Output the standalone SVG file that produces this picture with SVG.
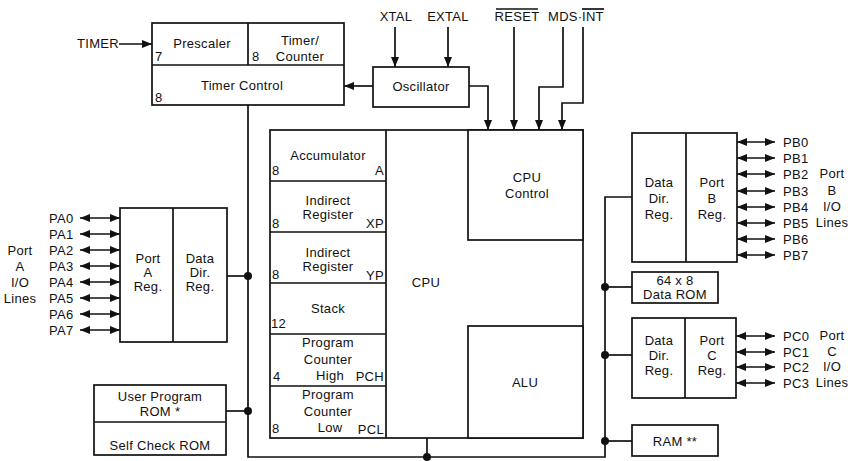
<svg xmlns="http://www.w3.org/2000/svg" width="852" height="461" viewBox="0 0 852 461">
<defs>
<marker id="ah" viewBox="0 0 10 8" refX="10" refY="4" markerWidth="10" markerHeight="8" orient="auto-start-reverse" markerUnits="userSpaceOnUse"><path d="M0,0 L10,4 L0,8 z" fill="#111"/></marker>
<style>
.b{fill:#fff;stroke:#111;stroke-width:1.7}
.l{fill:none;stroke:#111;stroke-width:1.7}
.a{fill:none;stroke:#111;stroke-width:1.7;marker-end:url(#ah)}
.d{fill:none;stroke:#111;stroke-width:1.7;marker-start:url(#ah);marker-end:url(#ah)}
.dot{fill:#111}
text{font-family:"Liberation Sans",Arial,Helvetica,sans-serif;font-size:13px;fill:#111;letter-spacing:0.3px}
.m{text-anchor:middle}
.e{text-anchor:end}
</style>
</defs>
<rect width="852" height="461" fill="#fff"/>

<g id="connectors">
<path class="a" d="M119,44H152"/>
<path class="a" d="M395,27V67"/>
<path class="a" d="M448,27V67"/>
<path class="a" d="M373,86H344"/>
<path class="a" d="M469,86H488V130"/>
<path class="a" d="M514,27V130"/>
<path class="a" d="M563,27V87H539V130"/>
<path class="a" d="M583,27V103H562V130"/>
<path class="l" d="M248,105V457H605V197H632"/>
<path class="l" d="M227,276H248"/>
<path class="l" d="M226,411H248"/>
<path class="l" d="M605,287H632"/>
<path class="l" d="M605,355H632"/>
<path class="l" d="M605,441H632"/>
<path class="l" d="M427,438V457"/>
<circle class="dot" cx="248" cy="276" r="4"/>
<circle class="dot" cx="248" cy="411" r="4"/>
<circle class="dot" cx="605" cy="287" r="4"/>
<circle class="dot" cx="605" cy="355" r="4"/>
<circle class="dot" cx="605" cy="441" r="4"/>
<circle class="dot" cx="427" cy="457" r="4"/>
<path class="d" d="M80,218H120"/>
<path class="d" d="M80,234H120"/>
<path class="d" d="M80,250H120"/>
<path class="d" d="M80,266H120"/>
<path class="d" d="M80,282H120"/>
<path class="d" d="M80,298H120"/>
<path class="d" d="M80,314H120"/>
<path class="d" d="M80,330H120"/>
<path class="d" d="M737,142H775"/>
<path class="d" d="M737,158H775"/>
<path class="d" d="M737,174H775"/>
<path class="d" d="M737,191H775"/>
<path class="d" d="M737,207H775"/>
<path class="d" d="M737,223H775"/>
<path class="d" d="M737,239H775"/>
<path class="d" d="M737,255H775"/>
<path class="d" d="M736,336H775"/>
<path class="d" d="M736,352H775"/>
<path class="d" d="M736,367H775"/>
<path class="d" d="M736,383H775"/>
</g>

<g id="labels">
<text x="77" y="48">TIMER</text>
<text class="m" x="396" y="21">XTAL</text>
<text class="m" x="448" y="21">EXTAL</text>
<text class="m" x="517" y="21">RESET</text>
<path class="l" d="M496,9H538" stroke-width="1.2"/>
<text x="548" y="21">MDS·</text>
<text x="582" y="21">INT</text>
<path class="l" d="M582,9H604" stroke-width="1.2"/>
<text class="m" x="20" y="255">Port</text>
<text class="m" x="20" y="271">A</text>
<text class="m" x="20" y="287">I/O</text>
<text class="m" x="20" y="303">Lines</text>
<text class="m" x="832" y="178">Port</text>
<text class="m" x="832" y="195">B</text>
<text class="m" x="832" y="211">I/O</text>
<text class="m" x="832" y="227">Lines</text>
<text class="m" x="832" y="340">Port</text>
<text class="m" x="832" y="356">C</text>
<text class="m" x="832" y="371">I/O</text>
<text class="m" x="832" y="387">Lines</text>
<text x="49" y="223">PA0</text>
<text x="49" y="239">PA1</text>
<text x="49" y="255">PA2</text>
<text x="49" y="271">PA3</text>
<text x="49" y="287">PA4</text>
<text x="49" y="303">PA5</text>
<text x="49" y="319">PA6</text>
<text x="49" y="335">PA7</text>
<text x="783" y="147">PB0</text>
<text x="783" y="163">PB1</text>
<text x="783" y="179">PB2</text>
<text x="783" y="196">PB3</text>
<text x="783" y="212">PB4</text>
<text x="783" y="228">PB5</text>
<text x="783" y="244">PB6</text>
<text x="783" y="260">PB7</text>
<text x="783" y="341">PC0</text>
<text x="783" y="357">PC1</text>
<text x="783" y="372">PC2</text>
<text x="783" y="388">PC3</text>
</g>

<g id="timer">
<rect class="b" x="152" y="23" width="192" height="82"/>
<path class="l" d="M152,65H344M248,23V65"/>
<text class="m" x="202" y="48">Prescaler</text>
<text x="155" y="61">7</text>
<text class="m" x="300" y="45">Timer/</text>
<text class="m" x="300" y="61">Counter</text>
<text x="252" y="61">8</text>
<text class="m" x="242" y="90">Timer Control</text>
<text x="155" y="102">8</text>
</g>

<g id="oscillator">
<rect class="b" x="373" y="67" width="96" height="40"/>
<text class="m" x="421" y="91">Oscillator</text>
</g>

<g id="cpu">
<rect class="b" x="270" y="130" width="313" height="308"/>
<path class="l" d="M386,130V438M270,181H386M270,232H386M270,283H386M270,334H386M270,386H386"/>
<text class="m" x="426" y="287">CPU</text>
<text class="m" x="328" y="160">Accumulator</text>
<text x="272" y="175">8</text>
<text class="e" x="384" y="175">A</text>
<text class="m" x="328" y="205">Indirect</text>
<text class="m" x="328" y="219">Register</text>
<text x="272" y="228">8</text>
<text class="e" x="384" y="228">XP</text>
<text class="m" x="328" y="257">Indirect</text>
<text class="m" x="328" y="271">Register</text>
<text x="272" y="279">8</text>
<text class="e" x="384" y="280">YP</text>
<text class="m" x="328" y="313">Stack</text>
<text x="271" y="328">12</text>
<text class="m" x="328" y="347">Program</text>
<text class="m" x="328" y="364">Counter</text>
<text class="m" x="330" y="380">High</text>
<text x="273" y="381">4</text>
<text class="e" x="384" y="381">PCH</text>
<text class="m" x="328" y="399">Program</text>
<text class="m" x="328" y="416">Counter</text>
<text class="m" x="330" y="432">Low</text>
<text x="272" y="433">8</text>
<text class="e" x="384" y="434">PCL</text>
</g>

<g id="cpu-control">
<rect class="b" x="468" y="130" width="115" height="110"/>
<text class="m" x="527" y="182">CPU</text>
<text class="m" x="527" y="198">Control</text>
</g>

<g id="alu">
<rect class="b" x="468" y="326" width="115" height="112"/>
<text class="m" x="525" y="387">ALU</text>
</g>

<g id="port-a">
<rect class="b" x="120" y="208" width="107" height="134"/>
<path class="l" d="M173,208V342"/>
<text class="m" x="148" y="263">Port</text>
<text class="m" x="148" y="277">A</text>
<text class="m" x="148" y="291">Reg.</text>
<text class="m" x="200" y="263">Data</text>
<text class="m" x="200" y="277">Dir.</text>
<text class="m" x="200" y="291">Reg.</text>
</g>

<g id="rom">
<rect class="b" x="94" y="385" width="132" height="70"/>
<path class="l" d="M94,422H226"/>
<text class="m" x="160" y="401">User Program</text>
<text class="m" x="160" y="416">ROM *</text>
<text class="m" x="160" y="450">Self Check ROM</text>
</g>

<g id="port-b">
<rect class="b" x="632" y="133" width="105" height="129"/>
<path class="l" d="M686,133V262"/>
<text class="m" x="659" y="187">Data</text>
<text class="m" x="659" y="203">Dir.</text>
<text class="m" x="659" y="219">Reg.</text>
<text class="m" x="712" y="187">Port</text>
<text class="m" x="712" y="203">B</text>
<text class="m" x="712" y="219">Reg.</text>
</g>

<g id="data-rom">
<rect class="b" x="632" y="272" width="86" height="31"/>
<text class="m" x="675" y="285">64 x 8</text>
<text class="m" x="675" y="299">Data ROM</text>
</g>

<g id="port-c">
<rect class="b" x="632" y="318" width="104" height="80"/>
<path class="l" d="M685,318V398"/>
<text class="m" x="659" y="345">Data</text>
<text class="m" x="659" y="360">Dir.</text>
<text class="m" x="659" y="375">Reg.</text>
<text class="m" x="712" y="345">Port</text>
<text class="m" x="712" y="360">C</text>
<text class="m" x="712" y="375">Reg.</text>
</g>

<g id="ram">
<rect class="b" x="632" y="425" width="86" height="31"/>
<text class="m" x="675" y="446">RAM **</text>
</g>
</svg>
